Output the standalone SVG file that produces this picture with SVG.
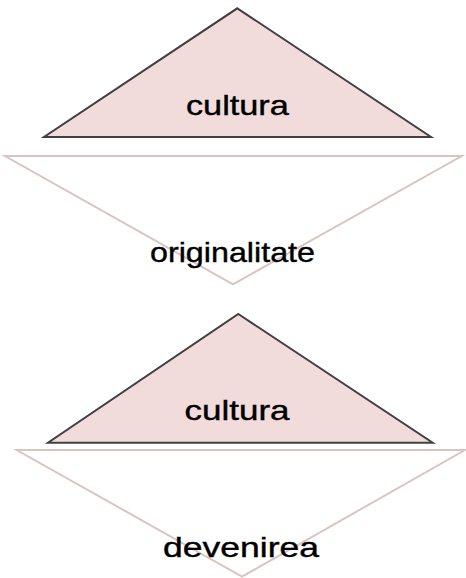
<svg xmlns="http://www.w3.org/2000/svg" width="466" height="578" viewBox="0 0 466 578">
<style>
.up{fill:#f2dcdb;stroke:#404040;stroke-width:2;stroke-linejoin:miter}
.down{fill:none;stroke:#d9c5c0;stroke-width:2}
.lbl{font-family:"Liberation Sans",Arial,sans-serif;font-size:28px;fill:#000;stroke:#000;stroke-width:0.4;text-anchor:middle}
</style>
<rect width="466" height="578" fill="#fff"/>
<g id="node-cultura-1">
<polygon class="up" points="237.3,8.3 431,137 44,137"/>
<text class="lbl" x="237.4" y="114.5" textLength="103" lengthAdjust="spacingAndGlyphs">cultura</text>
</g>
<g id="node-originalitate">
<polygon class="down" points="5,156 461.7,156 233,284.3"/>
<text class="lbl" x="232.5" y="261.7" textLength="165" lengthAdjust="spacingAndGlyphs">originalitate</text>
</g>
<g id="node-cultura-2">
<polygon class="up" points="238.3,314 432.7,442.7 48,442.7"/>
<text class="lbl" x="237" y="420" textLength="105" lengthAdjust="spacingAndGlyphs">cultura</text>
</g>
<g id="node-devenirea">
<polygon class="down" points="16.7,450 465,450 242,576.7"/>
<text class="lbl" x="241" y="557" textLength="156" lengthAdjust="spacingAndGlyphs">devenirea</text>
</g>
<g id="connectors"></g>
</svg>
